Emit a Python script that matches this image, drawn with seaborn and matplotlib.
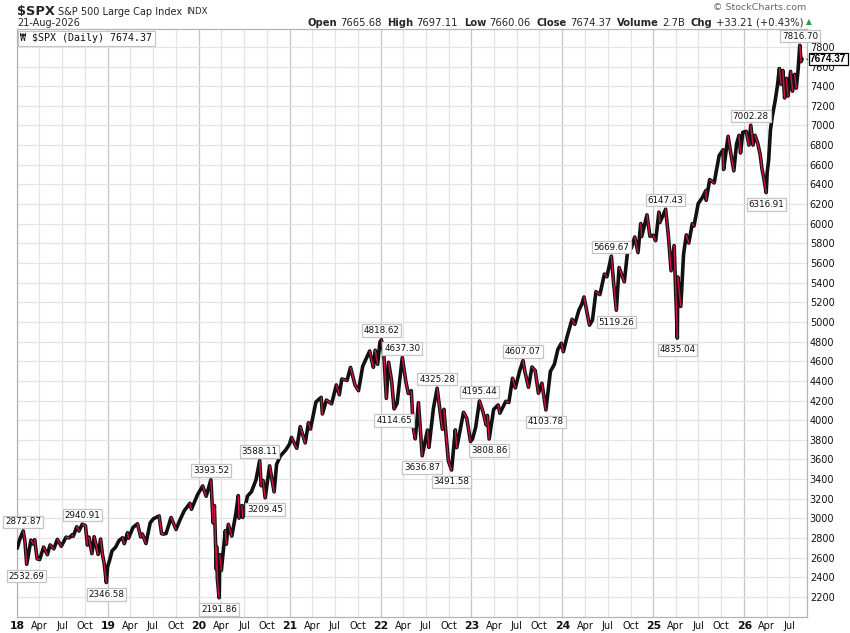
"""StockCharts-style daily $SPX chart, Jan 2018 - Aug 2026, redrawn with seaborn."""

import matplotlib.pyplot as plt
import pandas as pd
import seaborn as sns

# --- values (date, level) -----------------------------------------------------
spx_2018 = [("2018-01-02", 2695), ("2018-01-12", 2786), ("2018-01-26", 2872.87), ("2018-02-02", 2762),
            ("2018-02-09", 2532.69), ("2018-02-26", 2779), ("2018-03-08", 2738), ("2018-03-13", 2783),
            ("2018-03-23", 2588), ("2018-04-02", 2581), ("2018-04-18", 2708), ("2018-05-03", 2630),
            ("2018-05-14", 2730), ("2018-05-29", 2690), ("2018-06-12", 2786), ("2018-06-28", 2716),
            ("2018-07-17", 2809), ("2018-07-30", 2802), ("2018-08-10", 2833), ("2018-08-15", 2818),
            ("2018-08-29", 2914), ("2018-09-07", 2872), ("2018-09-20", 2940.91), ("2018-10-03", 2925),
            ("2018-10-11", 2728), ("2018-10-17", 2809), ("2018-10-29", 2641), ("2018-11-07", 2813),
            ("2018-11-23", 2633), ("2018-12-03", 2790), ("2018-12-10", 2637), ("2018-12-17", 2546),
            ("2018-12-26", 2346.58), ("2018-12-31", 2507)]
spx_2019 = [("2019-01-08", 2574), ("2019-01-18", 2670), ("2019-02-01", 2706), ("2019-02-15", 2775),
            ("2019-03-01", 2803), ("2019-03-08", 2743), ("2019-03-21", 2854), ("2019-03-25", 2798),
            ("2019-04-12", 2907), ("2019-04-30", 2945), ("2019-05-13", 2811), ("2019-05-20", 2840),
            ("2019-06-03", 2744), ("2019-06-20", 2954), ("2019-07-03", 2996), ("2019-07-26", 3025),
            ("2019-08-05", 2844), ("2019-08-14", 2840), ("2019-08-23", 2847), ("2019-09-12", 3009),
            ("2019-10-02", 2887), ("2019-10-18", 2986), ("2019-11-04", 3078), ("2019-11-27", 3154),
            ("2019-12-03", 3093), ("2019-12-27", 3240)]
spx_2020 = [("2020-01-17", 3330), ("2020-01-31", 3225), ("2020-02-19", 3393.52), ("2020-02-28", 2954),
            ("2020-03-04", 3130), ("2020-03-12", 2480), ("2020-03-13", 2711), ("2020-03-16", 2386),
            ("2020-03-23", 2191.86), ("2020-03-26", 2630), ("2020-04-01", 2470), ("2020-04-17", 2875),
            ("2020-04-21", 2737), ("2020-04-29", 2939), ("2020-05-13", 2820), ("2020-05-29", 3044),
            ("2020-06-08", 3232), ("2020-06-11", 3002), ("2020-06-23", 3131), ("2020-06-26", 3009),
            ("2020-07-15", 3227), ("2020-07-31", 3271), ("2020-08-18", 3390), ("2020-09-02", 3588.11),
            ("2020-09-08", 3332), ("2020-09-16", 3385), ("2020-09-24", 3209.45), ("2020-10-12", 3535),
            ("2020-10-30", 3270), ("2020-11-09", 3550), ("2020-11-24", 3635), ("2020-12-15", 3694),
            ("2020-12-31", 3756)]
spx_2021 = [("2021-01-08", 3824), ("2021-01-29", 3714), ("2021-02-12", 3934), ("2021-03-04", 3768),
            ("2021-03-17", 3974), ("2021-03-25", 3909), ("2021-04-16", 4185), ("2021-05-07", 4232),
            ("2021-05-12", 4063), ("2021-05-28", 4204), ("2021-06-18", 4166), ("2021-07-07", 4358),
            ("2021-07-19", 4258), ("2021-07-29", 4419), ("2021-08-19", 4405), ("2021-09-02", 4537),
            ("2021-09-20", 4358), ("2021-10-04", 4300), ("2021-10-21", 4549), ("2021-11-18", 4704),
            ("2021-11-30", 4567), ("2021-12-03", 4538), ("2021-12-10", 4712), ("2021-12-20", 4568),
            ("2021-12-29", 4793)]
spx_2022 = [("2022-01-04", 4818.62), ("2022-01-14", 4662), ("2022-01-24", 4222), ("2022-02-02", 4589),
            ("2022-02-14", 4401), ("2022-02-24", 4114.65), ("2022-03-08", 4170), ("2022-03-29", 4637.30),
            ("2022-04-12", 4397), ("2022-04-22", 4272), ("2022-05-04", 4300), ("2022-05-12", 3930),
            ("2022-05-20", 3810), ("2022-06-02", 4177), ("2022-06-17", 3636.87), ("2022-07-08", 3899),
            ("2022-07-14", 3723), ("2022-08-01", 4118), ("2022-08-16", 4325.28), ("2022-09-06", 3908),
            ("2022-09-12", 4110), ("2022-09-30", 3586), ("2022-10-13", 3491.58), ("2022-10-28", 3901),
            ("2022-11-03", 3720), ("2022-11-30", 4080), ("2022-12-13", 4019), ("2022-12-28", 3783)]
spx_2023 = [("2023-01-05", 3808), ("2023-01-18", 3929), ("2023-02-02", 4195.44), ("2023-02-17", 4079),
            ("2023-03-01", 3951), ("2023-03-06", 4048), ("2023-03-13", 3808.86), ("2023-03-31", 4109),
            ("2023-04-18", 4155), ("2023-04-25", 4071), ("2023-05-19", 4192), ("2023-05-31", 4180),
            ("2023-06-15", 4426), ("2023-06-26", 4328), ("2023-07-14", 4505), ("2023-07-27", 4607.07),
            ("2023-08-03", 4501), ("2023-08-18", 4335), ("2023-09-01", 4541), ("2023-09-14", 4505),
            ("2023-09-27", 4274), ("2023-10-11", 4376), ("2023-10-27", 4103.78), ("2023-11-14", 4496),
            ("2023-11-30", 4568), ("2023-12-14", 4720), ("2023-12-28", 4783)]
spx_2024 = [("2024-01-05", 4697), ("2024-01-19", 4840), ("2024-02-09", 5027), ("2024-02-20", 4975),
            ("2024-03-08", 5123), ("2024-03-19", 5179), ("2024-03-28", 5254), ("2024-04-19", 4967),
            ("2024-05-01", 5018), ("2024-05-15", 5308), ("2024-05-31", 5278), ("2024-06-18", 5487),
            ("2024-06-28", 5460), ("2024-07-16", 5669.67), ("2024-07-25", 5399), ("2024-08-05", 5119.26),
            ("2024-08-16", 5554), ("2024-09-06", 5408), ("2024-09-19", 5713), ("2024-10-04", 5751),
            ("2024-10-18", 5864), ("2024-10-31", 5705), ("2024-11-11", 6001), ("2024-11-15", 5870),
            ("2024-12-06", 6090), ("2024-12-18", 5872), ("2024-12-31", 5882)]
spx_2025 = [("2025-01-10", 5827), ("2025-01-23", 6118), ("2025-01-27", 6012), ("2025-02-19", 6147.43),
            ("2025-03-03", 5850), ("2025-03-13", 5521), ("2025-03-25", 5777), ("2025-04-04", 5074),
            ("2025-04-07", 4835.04), ("2025-04-09", 5457), ("2025-04-21", 5158), ("2025-05-02", 5686),
            ("2025-05-13", 5886), ("2025-05-23", 5803), ("2025-06-06", 6000), ("2025-06-13", 5977),
            ("2025-06-30", 6205), ("2025-07-16", 6264), ("2025-07-31", 6339), ("2025-08-01", 6238),
            ("2025-08-15", 6449), ("2025-09-02", 6415), ("2025-09-22", 6693), ("2025-10-08", 6753),
            ("2025-10-10", 6552), ("2025-10-28", 6890), ("2025-11-07", 6728), ("2025-11-20", 6538),
            ("2025-12-01", 6812), ("2025-12-11", 6900), ("2025-12-17", 6720), ("2025-12-26", 6930)]
spx_2026 = [("2026-01-09", 6940), ("2026-01-20", 6800), ("2026-01-27", 7002.28), ("2026-02-05", 6800),
            ("2026-02-13", 6900), ("2026-02-24", 6820), ("2026-03-06", 6700), ("2026-03-13", 6560),
            ("2026-03-20", 6470), ("2026-03-30", 6316.91), ("2026-04-03", 6520), ("2026-04-09", 6650),
            ("2026-04-16", 6950), ("2026-04-24", 7100), ("2026-05-05", 7250), ("2026-05-14", 7400),
            ("2026-05-22", 7580), ("2026-05-29", 7420), ("2026-06-05", 7560), ("2026-06-12", 7280),
            ("2026-06-19", 7480), ("2026-06-26", 7300), ("2026-07-06", 7550), ("2026-07-14", 7350),
            ("2026-07-22", 7520), ("2026-07-29", 7380), ("2026-08-05", 7560), ("2026-08-12", 7816.70),
            ("2026-08-17", 7650), ("2026-08-21", 7674.37)]

# labelled swing highs / lows
pivot_dates = ["2018-01-26", "2018-02-09", "2018-09-20", "2018-12-26", "2020-02-19", "2020-03-23",
               "2020-09-02", "2020-09-24", "2022-01-04", "2022-02-24", "2022-03-29", "2022-06-17",
               "2022-08-16", "2022-10-13", "2023-02-02", "2023-03-13", "2023-07-27", "2023-10-27",
               "2024-07-16", "2024-08-05", "2025-02-19", "2025-04-07", "2026-01-27", "2026-03-30",
               "2026-08-12"]
pivot_values = [2872.87, 2532.69, 2940.91, 2346.58, 3393.52, 2191.86, 3588.11, 3209.45, 4818.62,
                4114.65, 4637.30, 3636.87, 4325.28, 3491.58, 4195.44, 3808.86, 4607.07, 4103.78,
                5669.67, 5119.26, 6147.43, 4835.04, 7002.28, 6316.91, 7816.70]
pivot_kind = ["hi", "lo", "hi", "lo", "hi", "lo", "hi", "lo", "hi", "lo", "hi", "lo", "hi", "lo",
              "hi", "lo", "hi", "lo", "hi", "lo", "hi", "lo", "hi", "lo", "hi"]

last_close = 7674.37
y_ticks = list(range(2200, 7801, 200))

UP = "#111111"
DOWN = "#d3123f"
GRID = "#e4e4e4"
YEAR_GRID = "#c6c6c6"

rows = spx_2018 + spx_2019 + spx_2020 + spx_2021 + spx_2022 + spx_2023 + spx_2024 + spx_2025 + spx_2026
spx = pd.DataFrame(rows, columns=["date", "close"])
spx["date"] = pd.to_datetime(spx["date"])
spx = spx.sort_values("date").reset_index(drop=True)

# down legs get a red stroke on top, like the red down-bars
legs = []
for i in range(1, len(spx)):
    if spx.loc[i, "close"] < spx.loc[i - 1, "close"]:
        legs.append(pd.DataFrame({"date": spx.loc[[i - 1, i], "date"].values,
                                  "close": spx.loc[[i - 1, i], "close"].values, "leg": i}))
down = pd.concat(legs, ignore_index=True)

sns.set_theme(style="white")
plt.rcParams["font.family"] = ["DejaVu Sans"]

W, H = 850, 633
fig = plt.figure(figsize=(W / 100, H / 100), dpi=100)
ax = fig.add_axes([17 / W, 1 - 617 / H, 790 / W, 588 / H])

# grid: quarter lines light, year lines a bit darker
quarters = pd.date_range("2018-01-01", "2026-07-01", freq="QS")
for q in quarters:
    ax.axvline(q, color=YEAR_GRID if q.month == 1 else GRID, lw=0.9, zorder=0)
for v in y_ticks:
    ax.axhline(v, color=GRID, lw=0.9, zorder=0)

sns.lineplot(data=spx, x="date", y="close", color=UP, lw=2.6, ax=ax, zorder=3)
sns.lineplot(data=down, x="date", y="close", units="leg", estimator=None, color=DOWN,
             lw=1.0, ax=ax, zorder=4)

for d, v, k in zip(pivot_dates, pivot_values, pivot_kind):
    dy = 6.5 if k == "hi" else -8.5
    ax.annotate(f"{v:.2f}", xy=(pd.Timestamp(d), v), xytext=(0, dy), textcoords="offset points",
                ha="center", va="center", fontsize=6.3, color="#111111", zorder=6,
                annotation_clip=False,
                bbox=dict(boxstyle="square,pad=0.2", fc="white", ec="#c4c4c4", lw=0.9))

ax.set_xlim(pd.Timestamp("2018-01-01"), pd.Timestamp("2026-09-10"))
ax.set_ylim(1996, 7982)
ax.set_xlabel("")
ax.set_ylabel("")

ax.yaxis.tick_right()
ax.set_yticks(y_ticks)
ax.set_yticklabels([str(v) for v in y_ticks])
ax.tick_params(axis="y", length=0, pad=2, labelsize=7.0, labelcolor="#111111")

tick_labels = [f"{q.year % 100:02d}" if q.month == 1 else q.strftime("%b") for q in quarters]
ax.set_xticks(quarters)
ax.set_xticklabels(tick_labels)
ax.tick_params(axis="x", length=0, pad=3, labelsize=7.0, labelcolor="#111111")
for lab, q in zip(ax.get_xticklabels(), quarters):
    if q.month == 1:
        lab.set_fontweight("bold")
        lab.set_fontsize(7.8)

for side in ["left", "right", "top", "bottom"]:
    ax.spines[side].set_color("#b4b4b4")
    ax.spines[side].set_linewidth(0.9)

# legend box inside the plot
ax.text(0.004, 0.993, "₩ $SPX (Daily) 7674.37", transform=ax.transAxes, ha="left", va="top",
        fontsize=7.2, family="DejaVu Sans Mono", color="#111111", zorder=7,
        bbox=dict(boxstyle="square,pad=0.25", fc="white", ec="#c4c4c4", lw=0.8))

# last-price tag on the price axis
ax.annotate(f"{last_close:.2f}", xy=(1.0, last_close), xycoords=("axes fraction", "data"),
            xytext=(2.2, 0), textcoords="offset points", ha="left", va="center", fontsize=7.2,
            family=["Liberation Sans"], fontweight="bold", color="#000000", zorder=8,
            annotation_clip=False,
            bbox=dict(boxstyle="square,pad=0.12", fc="white", ec="#000000", lw=0.9))
ax.annotate("", xy=(1.0, last_close), xycoords=("axes fraction", "data"),
            xytext=(2.2, 0), textcoords="offset points", annotation_clip=False, zorder=8,
            arrowprops=dict(arrowstyle="-", color="#000000", lw=0.9))

# header
fig.canvas.draw()
renderer = fig.canvas.get_renderer()
t = fig.text(17 / W, 1 - 12 / H, "$SPX", fontsize=9.4, fontweight="bold", va="center", ha="left")
x_px = 17 + t.get_window_extent(renderer).width + 3
t = fig.text(x_px / W, 1 - 12 / H, "S&P 500 Large Cap Index", fontsize=7.0, va="center", ha="left")
x_px += t.get_window_extent(renderer).width + 4
fig.text(x_px / W, 1 - 12 / H, "INDX", fontsize=6.2, va="center", ha="left")
fig.text(17 / W, 1 - 22.5 / H, "21-Aug-2026", fontsize=7.0, va="center", ha="left")
fig.text(806 / W, 1 - 8 / H, "© StockCharts.com", fontsize=6.8, color="#666666",
         va="center", ha="right")

quote = [("Open", "7665.68"), ("High", "7697.11"), ("Low", "7660.06"), ("Close", "7674.37"),
         ("Volume", "2.7B"), ("Chg", "+33.21 (+0.43%)")]
parts = []
for key, val in quote:
    parts.append((key, "bold", 3))
    parts.append((val, "normal", 6))
widths = []
for s, weight, gap in parts:
    probe = fig.text(0, 0, s, fontsize=7.2, fontweight=weight)
    widths.append(probe.get_window_extent(renderer).width)
    probe.remove()
x_px = 803 - sum(widths) - sum(g for _, _, g in parts[:-1])
for (s, weight, gap), w in zip(parts, widths):
    fig.text(x_px / W, 1 - 22.5 / H, s, fontsize=7.2, fontweight=weight, va="center", ha="left")
    x_px += w + gap
fig.text(806 / W, 1 - 22 / H, "▲", fontsize=5.5, color="#2a9d3a", va="center", ha="left")

fig.savefig("out.png", dpi=100)
